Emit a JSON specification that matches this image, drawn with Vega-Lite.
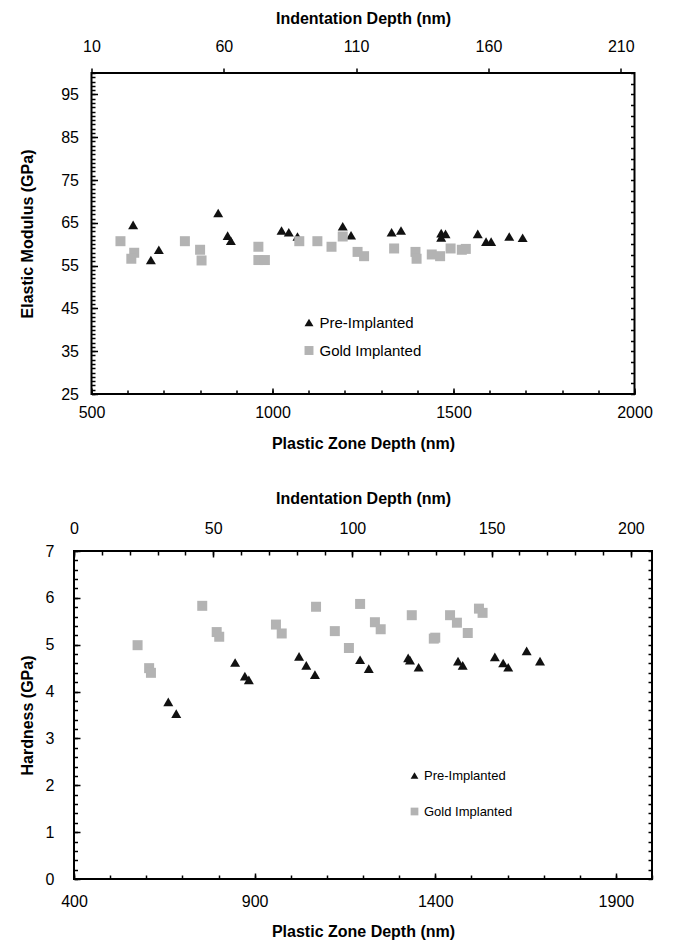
{
  "$schema": "https://vega.github.io/schema/vega-lite/v6.json",
  "padding": {"left": 18, "top": 9, "right": 5, "bottom": 5},
  "autosize": {"type": "pad"},
  "center": true,
  "bounds": "flush",
  "spacing": 157,
  "config": {
    "font": "Liberation Sans",
    "view": {"stroke": "#000000", "strokeWidth": 2},
    "axis": {
      "domain": false, "grid": false, "ticks": true, "tickOpacity": 1, "zindex": 2,
      "tickColor": "#000000", "tickWidth": 1.5,
      "labelColor": "#000000", "titleColor": "#000000",
      "labelFont": "Liberation Sans", "titleFont": "Liberation Sans",
      "labelFontSize": 16, "titleFontSize": 16, "titleFontWeight": "bold",
      "labelFlush": false, "labelOverlap": false, "format": "d"
    },
    "legend": {"labelFont": "Liberation Sans", "labelColor": "#000000"}
  },
  "datasets": {
    "modulus": [
      {"group": "Pre-Implanted", "pzd": 615, "val": 64.5},
      {"group": "Pre-Implanted", "pzd": 664, "val": 56.3},
      {"group": "Pre-Implanted", "pzd": 686, "val": 58.7},
      {"group": "Pre-Implanted", "pzd": 850, "val": 67.3},
      {"group": "Pre-Implanted", "pzd": 876, "val": 62.0},
      {"group": "Pre-Implanted", "pzd": 885, "val": 60.8},
      {"group": "Pre-Implanted", "pzd": 1025, "val": 63.2},
      {"group": "Pre-Implanted", "pzd": 1045, "val": 62.8},
      {"group": "Pre-Implanted", "pzd": 1069, "val": 61.8},
      {"group": "Pre-Implanted", "pzd": 1194, "val": 64.2},
      {"group": "Pre-Implanted", "pzd": 1217, "val": 62.1},
      {"group": "Pre-Implanted", "pzd": 1329, "val": 62.8},
      {"group": "Pre-Implanted", "pzd": 1355, "val": 63.2},
      {"group": "Pre-Implanted", "pzd": 1466, "val": 62.6},
      {"group": "Pre-Implanted", "pzd": 1478, "val": 62.4},
      {"group": "Pre-Implanted", "pzd": 1466, "val": 61.6},
      {"group": "Pre-Implanted", "pzd": 1567, "val": 62.4},
      {"group": "Pre-Implanted", "pzd": 1590, "val": 60.6},
      {"group": "Pre-Implanted", "pzd": 1604, "val": 60.6},
      {"group": "Pre-Implanted", "pzd": 1654, "val": 61.8},
      {"group": "Pre-Implanted", "pzd": 1691, "val": 61.5},
      {"group": "Gold Implanted", "pzd": 580, "val": 60.7},
      {"group": "Gold Implanted", "pzd": 618, "val": 58.0},
      {"group": "Gold Implanted", "pzd": 610, "val": 56.6},
      {"group": "Gold Implanted", "pzd": 758, "val": 60.7},
      {"group": "Gold Implanted", "pzd": 800, "val": 58.7},
      {"group": "Gold Implanted", "pzd": 804, "val": 56.2},
      {"group": "Gold Implanted", "pzd": 961, "val": 59.4},
      {"group": "Gold Implanted", "pzd": 961, "val": 56.3},
      {"group": "Gold Implanted", "pzd": 979, "val": 56.3},
      {"group": "Gold Implanted", "pzd": 1074, "val": 60.7},
      {"group": "Gold Implanted", "pzd": 1124, "val": 60.7},
      {"group": "Gold Implanted", "pzd": 1163, "val": 59.4},
      {"group": "Gold Implanted", "pzd": 1194, "val": 61.8},
      {"group": "Gold Implanted", "pzd": 1235, "val": 58.2},
      {"group": "Gold Implanted", "pzd": 1253, "val": 57.2},
      {"group": "Gold Implanted", "pzd": 1336, "val": 59.0},
      {"group": "Gold Implanted", "pzd": 1395, "val": 58.2},
      {"group": "Gold Implanted", "pzd": 1398, "val": 56.6},
      {"group": "Gold Implanted", "pzd": 1440, "val": 57.6},
      {"group": "Gold Implanted", "pzd": 1463, "val": 57.2},
      {"group": "Gold Implanted", "pzd": 1492, "val": 59.0},
      {"group": "Gold Implanted", "pzd": 1523, "val": 58.7},
      {"group": "Gold Implanted", "pzd": 1534, "val": 58.9}
    ],
    "hardness": [
      {"group": "Pre-Implanted", "pzd": 661, "val": 3.78},
      {"group": "Pre-Implanted", "pzd": 683, "val": 3.53},
      {"group": "Pre-Implanted", "pzd": 846, "val": 4.62},
      {"group": "Pre-Implanted", "pzd": 873, "val": 4.33},
      {"group": "Pre-Implanted", "pzd": 884, "val": 4.25},
      {"group": "Pre-Implanted", "pzd": 1023, "val": 4.75},
      {"group": "Pre-Implanted", "pzd": 1043, "val": 4.56},
      {"group": "Pre-Implanted", "pzd": 1067, "val": 4.36},
      {"group": "Pre-Implanted", "pzd": 1192, "val": 4.68},
      {"group": "Pre-Implanted", "pzd": 1216, "val": 4.49},
      {"group": "Pre-Implanted", "pzd": 1325, "val": 4.72},
      {"group": "Pre-Implanted", "pzd": 1330, "val": 4.67},
      {"group": "Pre-Implanted", "pzd": 1354, "val": 4.52},
      {"group": "Pre-Implanted", "pzd": 1463, "val": 4.65},
      {"group": "Pre-Implanted", "pzd": 1476, "val": 4.56},
      {"group": "Pre-Implanted", "pzd": 1565, "val": 4.74},
      {"group": "Pre-Implanted", "pzd": 1588, "val": 4.61},
      {"group": "Pre-Implanted", "pzd": 1602, "val": 4.52},
      {"group": "Pre-Implanted", "pzd": 1653, "val": 4.87},
      {"group": "Pre-Implanted", "pzd": 1690, "val": 4.65},
      {"group": "Gold Implanted", "pzd": 576, "val": 4.99},
      {"group": "Gold Implanted", "pzd": 608, "val": 4.50},
      {"group": "Gold Implanted", "pzd": 613, "val": 4.40},
      {"group": "Gold Implanted", "pzd": 755, "val": 5.83},
      {"group": "Gold Implanted", "pzd": 795, "val": 5.27},
      {"group": "Gold Implanted", "pzd": 802, "val": 5.17},
      {"group": "Gold Implanted", "pzd": 959, "val": 5.43},
      {"group": "Gold Implanted", "pzd": 975, "val": 5.24},
      {"group": "Gold Implanted", "pzd": 1070, "val": 5.81},
      {"group": "Gold Implanted", "pzd": 1122, "val": 5.29},
      {"group": "Gold Implanted", "pzd": 1161, "val": 4.93},
      {"group": "Gold Implanted", "pzd": 1192, "val": 5.87},
      {"group": "Gold Implanted", "pzd": 1233, "val": 5.48},
      {"group": "Gold Implanted", "pzd": 1249, "val": 5.33},
      {"group": "Gold Implanted", "pzd": 1335, "val": 5.63},
      {"group": "Gold Implanted", "pzd": 1396, "val": 5.13},
      {"group": "Gold Implanted", "pzd": 1400, "val": 5.15},
      {"group": "Gold Implanted", "pzd": 1441, "val": 5.63},
      {"group": "Gold Implanted", "pzd": 1460, "val": 5.47},
      {"group": "Gold Implanted", "pzd": 1490, "val": 5.25},
      {"group": "Gold Implanted", "pzd": 1521, "val": 5.77},
      {"group": "Gold Implanted", "pzd": 1531, "val": 5.68}
    ]
  },
  "vconcat": [
    {
      "width": 543,
      "height": 321,
      "data": {"name": "modulus"},
      "layer": [
        {
          "mark": {"type": "point", "filled": true, "opacity": 1, "size": 100, "strokeWidth": 0},
          "encoding": {
            "x": {"field": "pzd", "type": "quantitative",
              "scale": {"domain": [500, 2000], "nice": false, "zero": false},
              "axis": {"orient": "bottom", "values": [500, 1000, 1500, 2000], "tickSize": -6, "labelPadding": 16,
                "title": "Plastic Zone Depth (nm)", "titlePadding": 15}},
            "y": {"field": "val", "type": "quantitative",
              "scale": {"domain": [25, 100], "nice": false, "zero": false},
              "axis": {"orient": "left", "values": [25, 35, 45, 55, 65, 75, 85, 95], "tickSize": -6, "labelPadding": 19,
                "title": "Elastic Modulus (GPa)", "titlePadding": 25.5}},
            "shape": {"field": "group", "type": "nominal",
              "scale": {"domain": ["Pre-Implanted", "Gold Implanted"], "range": ["triangle-up", "square"]},
              "legend": {"orient": "none", "legendX": 210, "legendY": 242, "title": null, "labelFontSize": 15,
                "symbolSize": 80, "rowPadding": 12, "labelOffset": 3, "symbolStrokeWidth": 0}},
            "color": {"field": "group", "type": "nominal",
              "scale": {"domain": ["Pre-Implanted", "Gold Implanted"], "range": ["#111111", "#b3b3b3"]},
              "legend": {"orient": "none", "legendX": 210, "legendY": 242, "title": null, "labelFontSize": 15,
                "symbolSize": 80, "rowPadding": 12, "labelOffset": 3, "symbolStrokeWidth": 0}}
          }
        },
        {
          "mark": {"type": "point", "opacity": 0},
          "encoding": {
            "x": {"field": "pzd", "type": "quantitative",
              "scale": {"domain": [500, 2000], "nice": false, "zero": false},
              "axis": {"orient": "bottom", "values": [500, 600, 700, 800, 900, 1000, 1100, 1200, 1300, 1400, 1500, 1600, 1700, 1800, 1900, 2000],
                "tickSize": -4, "labels": false, "title": null}},
            "y": {"field": "val", "type": "quantitative",
              "scale": {"domain": [25, 100], "nice": false, "zero": false},
              "axis": {"orient": "left", "values": [25,26,27,28,29,30,31,32,33,34,35,36,37,38,39,40,41,42,43,44,45,46,47,48,49,50,51,52,53,54,55,56,57,58,59,60,61,62,63,64,65,66,67,68,69,70,71,72,73,74,75,76,77,78,79,80,81,82,83,84,85,86,87,88,89,90,91,92,93,94,95,96,97,98,99,100],
                "tickSize": -3.5, "labels": false, "title": null}}
          }
        },
        {
          "mark": {"type": "point", "opacity": 0},
          "encoding": {
            "x": {"datum": 10, "type": "quantitative",
              "scale": {"domain": [10, 215.2], "nice": false, "zero": false},
              "axis": {"orient": "top", "values": [10, 60, 110, 160, 210], "tickSize": 5, "labelPadding": 14,
                "title": "Indentation Depth (nm)", "titlePadding": 12}},
            "y": {"datum": 25, "type": "quantitative",
              "scale": {"domain": [25, 100], "nice": false, "zero": false},
              "axis": {"orient": "right", "values": [25,27.5,30,32.5,35,37.5,40,42.5,45,47.5,50,52.5,55,57.5,60,62.5,65,67.5,70,72.5,75,77.5,80,82.5,85,87.5,90,92.5,95,97.5,100],
                "tickSize": -4, "labels": false, "title": null}}
          }
        }
      ],
      "resolve": {"scale": {"x": "independent", "y": "independent"}}
    },
    {
      "width": 578,
      "height": 328,
      "data": {"name": "hardness"},
      "layer": [
        {
          "mark": {"type": "point", "filled": true, "opacity": 1, "size": 100, "strokeWidth": 0},
          "encoding": {
            "x": {"field": "pzd", "type": "quantitative",
              "scale": {"domain": [400, 2000], "nice": false, "zero": false},
              "axis": {"orient": "bottom", "values": [400, 900, 1400, 1900], "tickSize": -6, "labelPadding": 20,
                "title": "Plastic Zone Depth (nm)", "titlePadding": 14}},
            "y": {"field": "val", "type": "quantitative",
              "scale": {"domain": [0, 7], "nice": false, "zero": false},
              "axis": {"orient": "left", "values": [0, 1, 2, 3, 4, 5, 6, 7], "tickSize": -6, "labelPadding": 26,
                "title": "Hardness (GPa)", "titlePadding": 10}},
            "shape": {"field": "group", "type": "nominal",
              "scale": {"domain": ["Pre-Implanted", "Gold Implanted"], "range": ["triangle-up", "square"]},
              "legend": {"orient": "none", "legendX": 334, "legendY": 218, "title": null, "labelFontSize": 13,
                "symbolSize": 60, "rowPadding": 22, "labelOffset": 3, "symbolStrokeWidth": 0}},
            "color": {"field": "group", "type": "nominal",
              "scale": {"domain": ["Pre-Implanted", "Gold Implanted"], "range": ["#111111", "#b3b3b3"]},
              "legend": {"orient": "none", "legendX": 334, "legendY": 218, "title": null, "labelFontSize": 13,
                "symbolSize": 60, "rowPadding": 22, "labelOffset": 3, "symbolStrokeWidth": 0}}
          }
        },
        {
          "mark": {"type": "point", "opacity": 0},
          "encoding": {
            "x": {"field": "pzd", "type": "quantitative",
              "scale": {"domain": [400, 2000], "nice": false, "zero": false},
              "axis": {"orient": "bottom", "values": [400, 500, 600, 700, 800, 900, 1000, 1100, 1200, 1300, 1400, 1500, 1600, 1700, 1800, 1900, 2000],
                "tickSize": -4, "labels": false, "title": null}},
            "y": {"field": "val", "type": "quantitative",
              "scale": {"domain": [0, 7], "nice": false, "zero": false},
              "axis": {"orient": "left", "values": [0,0.2,0.4,0.6,0.8,1,1.2,1.4,1.6,1.8,2,2.2,2.4,2.6,2.8,3,3.2,3.4,3.6,3.8,4,4.2,4.4,4.6,4.8,5,5.2,5.4,5.6,5.8,6,6.2,6.4,6.6,6.8,7],
                "tickSize": -3.5, "labels": false, "title": null}}
          }
        },
        {
          "mark": {"type": "point", "opacity": 0},
          "encoding": {
            "x": {"datum": 0, "type": "quantitative",
              "scale": {"domain": [0, 207.6], "nice": false, "zero": false},
              "axis": {"orient": "top", "values": [0, 50, 100, 150, 200], "tickSize": -6, "labelPadding": 21,
                "title": "Indentation Depth (nm)", "titlePadding": 14}},
            "y": {"datum": 0, "type": "quantitative",
              "scale": {"domain": [0, 7], "nice": false, "zero": false},
              "axis": {"orient": "right", "values": [0,0.2,0.4,0.6,0.8,1,1.2,1.4,1.6,1.8,2,2.2,2.4,2.6,2.8,3,3.2,3.4,3.6,3.8,4,4.2,4.4,4.6,4.8,5,5.2,5.4,5.6,5.8,6,6.2,6.4,6.6,6.8,7],
                "tickSize": -4, "labels": false, "title": null}}
          }
        },
        {
          "mark": {"type": "point", "opacity": 0},
          "encoding": {
            "x": {"datum": 0, "type": "quantitative",
              "scale": {"domain": [0, 207.6], "nice": false, "zero": false},
              "axis": {"orient": "top", "values": [0,10,20,30,40,50,60,70,80,90,100,110,120,130,140,150,160,170,180,190,200],
                "tickSize": -4, "labels": false, "title": null}}
          }
        }
      ],
      "resolve": {"scale": {"x": "independent", "y": "independent"}}
    }
  ],
  "resolve": {"scale": {"color": "independent", "shape": "independent"}}
}
